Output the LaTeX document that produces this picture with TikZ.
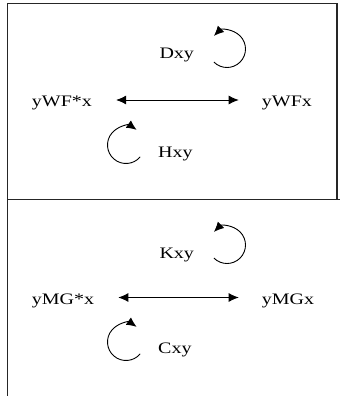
\documentclass[tikz,border=0pt]{standalone}
\usepackage{fontspec}
\setmainfont{Liberation Serif}[FakeStretch=1.25]
\usetikzlibrary{arrows.meta}
\begin{document}
\begin{tikzpicture}[x=1pt,y=1pt,
  frame/.style={line width=1.3pt,draw=black!85},
  lbl/.style={font=\fontsize{16}{19}\selectfont,inner sep=0pt,anchor=base west},
  dbl/.style={line width=0.9pt,{Latex[length=10pt,width=9pt]}-{Latex[length=10pt,width=9pt]}},
  cyc/.style={line width=0.9pt,-{Latex[length=10pt,width=9pt]}}]
\useasboundingbox (0,0) rectangle (340,-396);
% panel frames
\draw[frame] (7.5,-396) -- (7.5,-3.5) -- (337,-3.5) -- (337,-199.5);
\draw[frame] (7.5,-199.5) -- (340,-199.5);
% upper panel
\node[lbl] (wfs) at (31.7,-106.7) {yWF*x};
\node[lbl] (wf) at (261.7,-106.7) {yWFx};
\node[lbl] (d) at (159.3,-58.3) {Dxy};
\node[lbl] (h) at (158,-157.7) {Hxy};
\coordinate (dc) at (227,-49);
\coordinate (hc) at (126,-145);
\draw[dbl] ([xshift=24pt]wfs.east |- 0,-100) -- ([xshift=-23pt]wf.west |- 0,-100);
\draw[cyc] ([shift={(-135:18.5)}]dc) arc[start angle=-135,end angle=135,radius=18.5];
\draw[cyc] ([shift={(-40:18.5)}]hc) arc[start angle=-40,end angle=-305,radius=18.5];
% lower panel
\node[lbl] (mgs) at (31.7,-304) {yMG*x};
\node[lbl] (mg) at (261.7,-304) {yMGx};
\node[lbl] (k) at (159.3,-258) {Kxy};
\node[lbl] (c) at (158,-353.3) {Cxy};
\coordinate (kc) at (227,-245);
\coordinate (cc) at (126,-342);
\draw[dbl] ([xshift=24pt]mgs.east |- 0,-297.5) -- ([xshift=-23pt]mg.west |- 0,-297.5);
\draw[cyc] ([shift={(-135:18.5)}]kc) arc[start angle=-135,end angle=135,radius=18.5];
\draw[cyc] ([shift={(-40:18.5)}]cc) arc[start angle=-40,end angle=-305,radius=18.5];
\end{tikzpicture}
\end{document}
